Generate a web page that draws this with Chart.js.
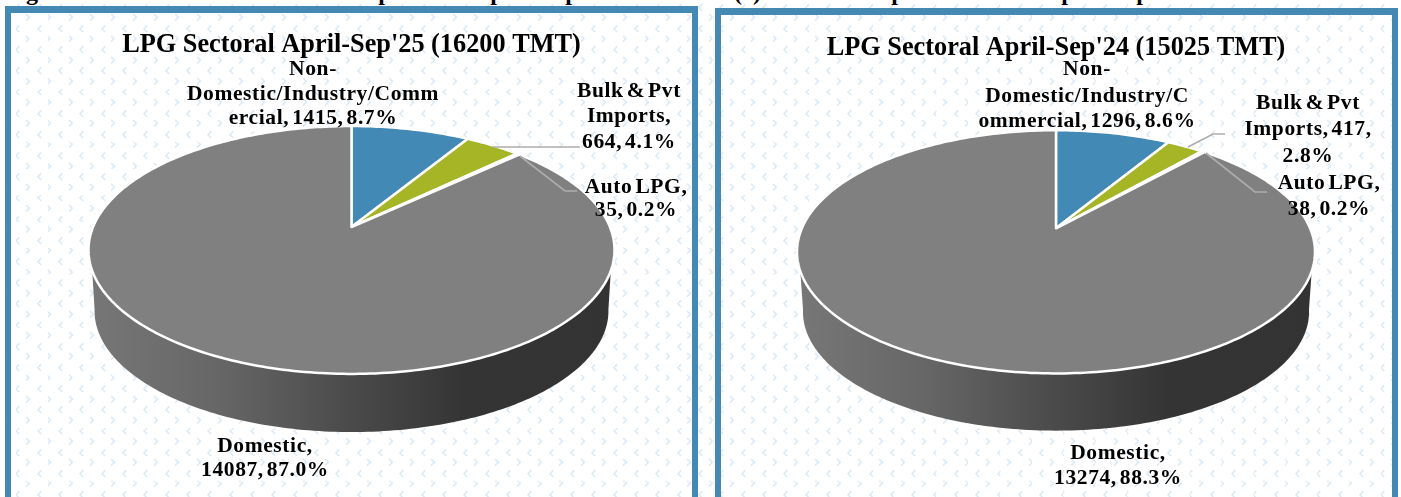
<!DOCTYPE html>
<html><head><meta charset="utf-8">
<script src="https://cdn.jsdelivr.net/npm/chart.js@4"></script>
<style>
html,body{margin:0;padding:0;width:1401px;height:497px;overflow:hidden;background:#fff}
#bg{position:absolute;left:0;top:0;width:1401px;height:497px;background-size:21.33px 21.2px;background-repeat:repeat}
.frame{position:absolute;box-sizing:border-box;border:solid #4389b4}
canvas{position:absolute;top:0}
.cut{position:absolute;font:bold 24px "Liberation Serif",serif;color:#000;line-height:24px;top:-20px;transform:translateX(-50%)}
</style></head><body>
<div id="bg"></div>
<div class="frame" style="left:5px;top:6px;width:693px;height:520px;border-width:7px 6px"></div>
<div class="frame" style="left:715px;top:8px;width:683px;height:520px;border-width:7px 6px"></div>
<div id="cuts"></div>
<canvas id="c1" width="703" height="497" style="left:0;width:703px;height:497px"></canvas>
<canvas id="c2" width="702" height="497" style="left:705px;width:702px;height:497px"></canvas>
<script>
// ---- data ----
const categories = ["Non-Domestic/Industry/Commercial", "Bulk & Pvt Imports", "Auto LPG", "Domestic"];
const valuesSep25 = [1415, 664, 35, 14087];
const valuesSep24 = [1296, 417, 38, 13274];
const titleSep25 = "LPG Sectoral April-Sep'25 (16200 TMT)";
const titleSep24 = "LPG Sectoral April-Sep'24 (15025 TMT)";
const labelsSep25 = [
  ["Non-", "Domestic/Industry/Comm", "ercial, 1415, 8.7%"],
  ["Bulk & Pvt", "Imports,", "664, 4.1%"],
  ["Auto LPG,", "35, 0.2%"],
  ["Domestic,", "14087, 87.0%"]
];
const labelsSep24 = [
  ["Non-", "Domestic/Industry/C", "ommercial, 1296, 8.6%"],
  ["Bulk & Pvt", "Imports, 417,", "2.8%"],
  ["Auto LPG,", "38, 0.2%"],
  ["Domestic,", "13274, 88.3%"]
];
const sliceColors = ["#4289b5", "#a5b526", "#f6ead6", "#808080"];

// ---- layout and styling, kept apart from the data ----
const FONT = '"Liberation Serif", serif';
const layout1 = {
  left: 0, radius: 263, apexY: 227, k: 0.1855, tilt: 0.455, titleY: 45,
  wallDy: 61, wallScale: 0.977,
  labelPos: [[313,[69,94,118]], [629,[91,116,142]], [636,[187,210]], [265,[446,470]]],
  leaders: [[[493,147],[580,147]], [[520,156],[565,191],[577,191]]]
};
const layout2 = {
  left: 705, radius: 259, apexY: 228.3, k: 0.1934, tilt: 0.452, titleY: 48,
  wallDy: 60, wallScale: 0.977,
  labelPos: [[1087,[69,96,121]], [1308,[103,129,156]], [1329,[183,209]], [1118,[453,478]]],
  leaders: [[[1188,147],[1213,134],[1225,134]], [[1206,153],[1255,192],[1267,192]]]
};
const cutGlyphs = [["g",32],["p",385],["p",497],["p",572],["(",738],[")",757],["p",898],["p",1068],["p",1143]];

// chevron background
const chevronSvg = `<svg xmlns='http://www.w3.org/2000/svg' width='64' height='63.6' viewBox='0 0 21.33 21.2'><g fill='none' stroke='#dbe9f4' stroke-width='1.5'><path d='M4.9 14.4 L8.1 17.6 L4.9 20.8'/><path d='M19.6 4.2 L16.4 7.4 L19.6 10.6'/></g></svg>`;
document.getElementById('bg').style.backgroundImage = 'url("data:image/svg+xml,' + encodeURIComponent(chevronSvg) + '")';

for (const [g, x] of cutGlyphs) {
  const s = document.createElement('span');
  s.className = 'cut'; s.textContent = g; s.style.left = x + 'px';
  document.getElementById('cuts').appendChild(s);
}

// Perspective pie: takes each arc the library laid out and projects it.
const perspectivePie = {
  id: 'perspectivePie',
  beforeDatasetDraw(chart, args, opts) {
    const ctx = chart.ctx, L = opts.geo, arcs = chart.getDatasetMeta(args.index).data;
    const k = L.k, R = arcs[0].outerRadius, cx = arcs[0].x, cy = arcs[0].y;
    const A = R * Math.sqrt(1 - k * k), B = R * L.tilt;
    const proj = (th, r) => {
      const u = r * Math.cos(th), v = r * Math.sin(th), w = 1 - k * v;
      return [cx + A * u / w, cy + B * v / w];
    };
    const lowY = proj(Math.PI / 2, 1)[1], topY = proj(-Math.PI / 2, 1)[1];
    const midY = (lowY + topY) / 2;
    const under = (th) => {
      const p = proj(th, 1);
      return [cx + L.wallScale * (p[0] - cx), midY + L.wallDy + L.wallScale * (p[1] - midY)];
    };
    // side wall
    const deg = Math.PI / 180;
    const grad = ctx.createLinearGradient(cx - R, 0, cx + R, 0);
    grad.addColorStop(0, '#777777'); grad.addColorStop(0.25, '#666666');
    grad.addColorStop(0.5, '#4a4a4a'); grad.addColorStop(0.72, '#343434'); grad.addColorStop(1, '#333333');
    ctx.save();
    ctx.beginPath();
    for (let d = 20; d <= 160; d++) { const p = proj(d * deg, 1); d === 20 ? ctx.moveTo(p[0], p[1]) : ctx.lineTo(p[0], p[1]); }
    for (let d = 170; d >= 10; d--) { const p = under(d * deg); ctx.lineTo(p[0], p[1]); }
    ctx.closePath(); ctx.fillStyle = grad; ctx.fill();
    // top face
    arcs.forEach((el) => {
      ctx.beginPath(); ctx.moveTo(cx, cy);
      const n = Math.max(2, Math.ceil((el.endAngle - el.startAngle) / deg));
      for (let i = 0; i <= n; i++) {
        const p = proj(el.startAngle + (el.endAngle - el.startAngle) * i / n, 1);
        ctx.lineTo(p[0], p[1]);
      }
      ctx.closePath();
      ctx.fillStyle = el.options.backgroundColor; ctx.fill();
      ctx.lineWidth = el.options.borderWidth; ctx.strokeStyle = el.options.borderColor;
      ctx.lineJoin = 'round'; ctx.stroke();
    });
    ctx.restore();
    return false;
  },
  afterDraw(chart, args, opts) {
    const ctx = chart.ctx, L = opts.geo;
    ctx.save();
    ctx.translate(-L.left, 0);
    ctx.strokeStyle = '#adadad'; ctx.lineWidth = 1.7;
    L.leaders.forEach(line => {
      ctx.beginPath();
      line.forEach((p, i) => i ? ctx.lineTo(p[0], p[1]) : ctx.moveTo(p[0], p[1]));
      ctx.stroke();
    });
    ctx.fillStyle = '#000'; ctx.font = 'bold ' + opts.labelSize + 'px ' + FONT;
    ctx.letterSpacing = opts.labelSpacing;
    ctx.wordSpacing = opts.labelWordSpacing;
    ctx.textAlign = 'center'; ctx.textBaseline = 'middle';
    opts.labels.forEach((lines, i) => {
      const [x, ys] = L.labelPos[i];
      lines.forEach((t, j) => ctx.fillText(t, x, ys[j]));
    });
    ctx.restore();
  }
};

function makePie(id, title, values, labels, L) {
  const c = document.getElementById(id);
  const titleSize = 26.3, lh = titleSize * 1.2;
  const padTop = L.titleY - lh / 2;
  const titleH = lh + padTop;
  return new Chart(c, {
    type: 'pie',
    data: { labels: categories, datasets: [{
      data: values, backgroundColor: sliceColors, borderColor: '#ffffff', borderWidth: 2.5,
      radius: L.radius, clip: false
    }]},
    plugins: [perspectivePie],
    options: {
      responsive: false, animation: false,
      layout: { padding: { left: 0, right: 0, top: 0, bottom: c.height + titleH - 2 * L.apexY } },
      plugins: {
        legend: { display: false }, tooltip: { enabled: false },
        title: { display: true, text: title, color: '#000', align: 'center',
          font: { family: FONT, size: titleSize, weight: 'bold', lineHeight: 1.2 },
          padding: { top: padTop, bottom: 0 } },
        perspectivePie: { geo: L, labels: labels, labelSize: 21.5, labelSpacing: '0.6px', labelWordSpacing: '-3px' }
      }
    }
  });
}
makePie('c1', titleSep25, valuesSep25, labelsSep25, layout1);
makePie('c2', titleSep24, valuesSep24, labelsSep24, layout2);
</script>
</body></html>
